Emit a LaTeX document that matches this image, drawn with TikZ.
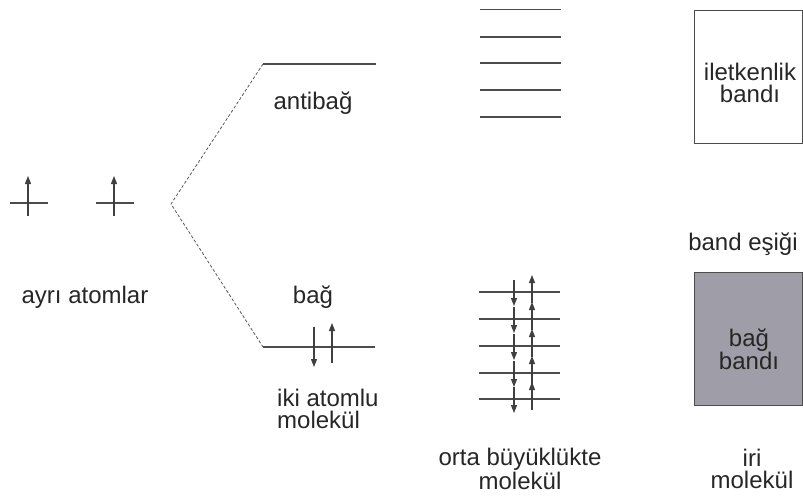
\documentclass[tikz,border=0pt]{standalone}
\usepackage{fontspec}
\setmainfont{Liberation Sans}
\usetikzlibrary{arrows.meta}
\begin{document}
\begin{tikzpicture}[x=1pt,y=-1pt,
  lvl/.style={draw=black!70,line width=1.4pt},
  spin/.style={draw=black!75,line width=1.1pt,-{Triangle[length=8pt,width=6pt]}},
  corr/.style={draw=black!65,line width=0.8pt,densely dashed},
  lbl/.style={font=\fontsize{24}{22}\selectfont,align=center,inner sep=0pt,text=black!85},
  band/.style={draw=black!70,line width=1pt,minimum width=108pt,minimum height=133pt,inner sep=0pt,anchor=north west}]
\useasboundingbox (0,0) rectangle (803,500);
% isolated atoms
\coordinate (a1l) at (10,203); \coordinate (a1r) at (48,203);
\coordinate (a2l) at (96,203); \coordinate (a2r) at (134,203);
\draw[lvl] (a1l) -- (a1r);
\draw[lvl] (a2l) -- (a2r);
\coordinate (s1b) at (28,216); \coordinate (s1t) at (28,176);
\coordinate (s2b) at (114,216); \coordinate (s2t) at (114,176);
\draw[spin] (s1b) -- (s1t);
\draw[spin] (s2b) -- (s2t);
\node[lbl] (ayri) at (85,297) {ayrı atomlar};
% diatomic
\coordinate (v) at (171,204);
\coordinate (abl) at (263,64); \coordinate (abr) at (376,64);
\coordinate (bl) at (263,347); \coordinate (br) at (375,347);
\draw[lvl] (abl) -- (abr);
\draw[lvl] (bl) -- (br);
\draw[corr] (abl) -- (v) -- (bl);
\coordinate (d1t) at (314,327); \coordinate (d1b) at (314,367);
\coordinate (u1b) at (332,363); \coordinate (u1t) at (332,323);
\draw[spin] (d1t) -- (d1b);
\draw[spin] (u1b) -- (u1t);
\node[lbl] (antibag) at (313,103) {antibağ};
\node[lbl] (bag) at (313,297) {bağ};
\node[lbl,align=left,anchor=west] (iki) at (277,409) {iki atomlu\\molekül};
% medium molecule
\foreach \y [count=\i] in {9.5,37,63,90,117}{
  \coordinate (tl\i) at (480,\y); \coordinate (tr\i) at (561,\y);
  \draw[lvl] (tl\i) -- (tr\i);
}
\foreach \y [count=\i] in {292,319,346,373,399}{
  \coordinate (ml\i) at (479,\y); \coordinate (mr\i) at (560,\y);
  \draw[lvl] (ml\i) -- (mr\i);
  \coordinate (md\i t) at (514,\y-12); \coordinate (md\i b) at (514,\y+14);
  \coordinate (mu\i b) at (532,\y+11); \coordinate (mu\i t) at (532,\y-17);
  \draw[spin] (md\i t) -- (md\i b);
  \draw[spin] (mu\i b) -- (mu\i t);
}
\node[lbl] (orta) at (520,469) {orta büyüklükte\\molekül};
% bulk
\node[band] (cb) at (694,10) {};
\node[lbl] (cbt) at (750,83) {iletkenlik\\bandı};
\node[lbl] (gap) at (743,244) {band eşiği};
\node[band,fill={rgb,255:red,158;green,157;blue,168}] (vb) at (694,272) {};
\node[lbl] (vbt) at (749,349) {bağ\\bandı};
\node[lbl] (iri) at (752,469) {iri\\molekül};
\end{tikzpicture}
\end{document}
